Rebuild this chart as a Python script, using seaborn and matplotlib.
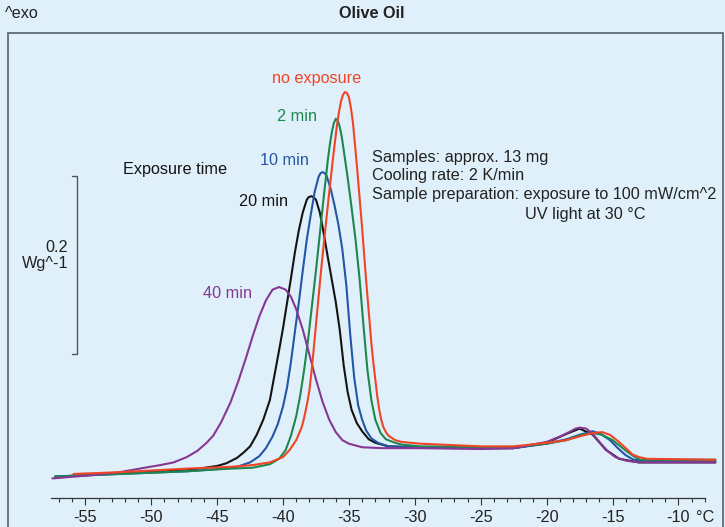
import numpy as np
import pandas as pd
import matplotlib
matplotlib.use("Agg")
import matplotlib.pyplot as plt
import seaborn as sns
from matplotlib.patches import Rectangle
from matplotlib.ticker import FixedLocator

# ---------------- data ----------------
temp_red = [-55.9, -52.4, -47.3, -44.0, -42.3, -41.0, -40.0, -39.5, -39.0, -38.6, -38.45, -38.3,
            -38.15, -38.0, -37.85, -37.7, -37.4, -37.1, -36.8, -36.5, -36.2, -35.9, -35.75, -35.6,
            -35.45, -35.3, -35.15, -35.0, -34.85, -34.7, -34.4, -34.0, -33.7, -33.3, -33.15, -33.0,
            -32.85, -32.7, -32.55, -32.4, -32.2, -32.0, -31.5, -31.0, -29.6, -25.0, -22.5, -20.0,
            -18.5, -17.3, -16.5, -15.8, -15.2, -14.6, -14.0, -13.5, -13.0, -12.4, -7.2]
hf_red = [0.027, 0.029, 0.033, 0.035, 0.037, 0.040, 0.046, 0.054, 0.065, 0.079, 0.087, 0.097,
          0.108, 0.121, 0.141, 0.163, 0.211, 0.258, 0.301, 0.343, 0.383, 0.420, 0.434, 0.446,
          0.453, 0.456, 0.455, 0.450, 0.438, 0.422, 0.374, 0.303, 0.245, 0.174, 0.152, 0.133,
          0.114, 0.099, 0.088, 0.080, 0.074, 0.070, 0.065, 0.063, 0.061, 0.058, 0.058, 0.062,
          0.065, 0.070, 0.073, 0.074, 0.071, 0.064, 0.056, 0.049, 0.046, 0.044, 0.043]

temp_green = [-57.3, -52.4, -47.3, -44.0, -42.3, -41.0, -40.3, -39.8, -39.4, -39.0, -38.7, -38.4,
              -38.1, -37.8, -37.5, -37.2, -36.9, -36.6, -36.45, -36.3, -36.15, -36.0, -35.85, -35.7,
              -35.55, -35.4, -35.1, -34.8, -34.5, -34.2, -33.9, -33.6, -33.3, -33.0, -32.6, -32.2,
              -31.5, -31.0, -29.6, -25.0, -22.5, -20.0, -18.5, -17.3, -16.5, -15.8, -15.0, -14.4,
              -13.9, -13.3, -12.9, -7.2]
hf_green = [0.024, 0.027, 0.030, 0.033, 0.034, 0.038, 0.044, 0.054, 0.070, 0.092, 0.115, 0.144,
            0.178, 0.217, 0.256, 0.298, 0.340, 0.380, 0.397, 0.411, 0.421, 0.426, 0.424, 0.417,
            0.406, 0.391, 0.360, 0.326, 0.290, 0.247, 0.194, 0.144, 0.110, 0.088, 0.073, 0.066,
            0.062, 0.060, 0.058, 0.057, 0.057, 0.061, 0.065, 0.071, 0.073, 0.071, 0.065, 0.058,
            0.052, 0.046, 0.043, 0.043]

temp_blue = [-57.3, -52.4, -47.3, -44.5, -43.5, -42.5, -41.8, -41.3, -40.8, -40.4, -40.0, -39.7,
             -39.4, -39.1, -38.8, -38.5, -38.2, -37.9, -37.6, -37.3, -37.15, -37.0, -36.85, -36.7,
             -36.4, -36.1, -35.8, -35.5, -35.2, -34.9, -34.6, -34.3, -34.0, -33.7, -33.3, -32.8,
             -32.0, -30.0, -25.0, -22.5, -20.0, -18.5, -17.5, -16.5, -15.9, -15.2, -14.6, -14.0,
             -13.4, -12.8, -7.2]
hf_blue = [0.024, 0.027, 0.030, 0.033, 0.035, 0.040, 0.047, 0.056, 0.069, 0.083, 0.103, 0.124,
           0.153, 0.187, 0.220, 0.256, 0.290, 0.318, 0.344, 0.361, 0.365, 0.366, 0.365, 0.362,
           0.348, 0.329, 0.307, 0.279, 0.239, 0.183, 0.135, 0.104, 0.088, 0.076, 0.067, 0.062,
           0.058, 0.057, 0.056, 0.056, 0.061, 0.066, 0.071, 0.075, 0.072, 0.065, 0.056, 0.048,
           0.043, 0.042, 0.042]

temp_black = [-57.3, -52.4, -47.3, -45.0, -44.3, -43.5, -43.0, -42.5, -42.0, -41.5, -41.0, -40.6,
              -40.3, -40.0, -39.7, -39.4, -39.1, -38.8, -38.5, -38.2, -38.05, -37.85, -37.7, -37.5,
              -37.2, -36.9, -36.6, -36.3, -36.0, -35.7, -35.4, -35.1, -34.8, -34.4, -34.0, -33.5,
              -33.0, -32.0, -30.0, -25.0, -22.5, -20.0, -18.5, -17.5, -16.5, -15.5, -14.5, -13.0, -7.2]
hf_black = [0.024, 0.028, 0.031, 0.036, 0.039, 0.045, 0.051, 0.058, 0.071, 0.088, 0.110, 0.142,
            0.166, 0.191, 0.219, 0.247, 0.276, 0.301, 0.321, 0.335, 0.338, 0.339, 0.338, 0.335,
            0.320, 0.296, 0.270, 0.245, 0.220, 0.189, 0.149, 0.119, 0.099, 0.084, 0.075, 0.066,
            0.062, 0.058, 0.057, 0.056, 0.056, 0.062, 0.072, 0.078, 0.071, 0.054, 0.044, 0.040, 0.040]

temp_purple = [-57.5, -55.0, -52.4, -50.5, -49.3, -48.3, -47.3, -46.5, -45.8, -45.3, -44.7, -44.0,
               -43.4, -42.8, -42.3, -41.8, -41.3, -40.8, -40.3, -39.8, -39.4, -39.0, -38.5, -38.0,
               -37.5, -37.0, -36.5, -36.0, -35.5, -35.0, -34.0, -32.5, -29.6, -25.0, -22.5, -20.0,
               -19.0, -18.3, -17.8, -17.5, -17.0, -16.5, -16.0, -15.4, -14.8, -14.0, -13.0, -7.2]
hf_purple = [0.022, 0.025, 0.029, 0.034, 0.037, 0.040, 0.046, 0.053, 0.062, 0.070, 0.085, 0.107,
             0.131, 0.158, 0.182, 0.204, 0.222, 0.234, 0.237, 0.234, 0.226, 0.212, 0.189, 0.161,
             0.133, 0.108, 0.088, 0.074, 0.065, 0.061, 0.057, 0.056, 0.056, 0.055, 0.056, 0.063,
             0.069, 0.074, 0.078, 0.079, 0.078, 0.072, 0.063, 0.053, 0.046, 0.042, 0.040, 0.040]

series_names = ["20 min", "10 min", "2 min", "40 min", "no exposure"]
series_colors = ["#141414", "#2356a6", "#1e8750", "#883793", "#ef4526"]
series_temps = [temp_black, temp_blue, temp_green, temp_purple, temp_red]
series_hf = [hf_black, hf_blue, hf_green, hf_purple, hf_red]

label_text = ["no exposure", "2 min", "10 min", "20 min", "40 min"]
label_color = ["#ef4526", "#1e8750", "#2356a6", "#141414", "#883793"]
label_x = [-37.47, -38.95, -39.93, -41.45, -44.22]
label_y = [0.471, 0.428, 0.379, 0.333, 0.230]

x_major = [-55, -50, -45, -40, -35, -30, -25, -20, -15, -10]
x_major_labels = ["-55", "-50", "-45", "-40", "-35", "-30", "-25", "-20", "-15", "-10"]
x_minor = list(range(-57, -7))

notes = ["Samples: approx. 13 mg", "Cooling rate: 2 K/min",
         "Sample preparation: exposure to 100 mW/cm^2", "UV light at 30 °C"]

# ---------------- style ----------------
BG = "#dff0fa"
sns.set_theme(style="white")
plt.rcParams["font.family"] = ["Liberation Sans", "DejaVu Sans"]
FS = 11.7

fig = plt.figure(figsize=(7.25, 5.27), dpi=100, facecolor=BG)
ax = fig.add_axes([40 / 725, 29 / 527, 680 / 725, 438 / 527])
ax.set_facecolor(BG)

for name, col, t, h in zip(series_names, series_colors, series_temps, series_hf):
    df = pd.DataFrame({"Temperature": t, "HeatFlow": h})
    sns.lineplot(data=df, x="Temperature", y="HeatFlow", ax=ax, color=col, lw=1.5,
                 sort=False, estimator=None, solid_joinstyle="round", solid_capstyle="round")

ax.set_xlim(-58.44, -6.85)
ax.set_ylim(0, 0.492)
ax.set_xlabel("")
ax.set_ylabel("")
ax.set_yticks([])
for s in ["left", "right", "top"]:
    ax.spines[s].set_visible(False)
ax.spines["bottom"].set_bounds(-57.6, -8.0)
ax.spines["bottom"].set_color("#333333")
ax.spines["bottom"].set_linewidth(0.9)
ax.set_xticks(x_major)
ax.set_xticklabels(x_major_labels)
ax.xaxis.set_minor_locator(FixedLocator(x_minor))
ax.tick_params(axis="x", which="major", direction="out", length=5, width=0.8,
               color="#333333", labelsize=FS, labelcolor="#222222", pad=3.5, bottom=True)
ax.tick_params(axis="x", which="minor", direction="out", length=3.2, width=0.8,
               color="#333333", bottom=True)
ax.text(-8.67, -0.0274, "°C", transform=ax.get_xaxis_transform(), ha="left", va="top",
        fontsize=FS, color="#222222")

# scale bar 0.2 W/g
sb_x, sb_y0, sb_h, sb_w = -55.64, 0.162, 0.2, 0.38
ax.plot([sb_x - sb_w, sb_x, sb_x, sb_x - sb_w], [sb_y0, sb_y0, sb_y0 + sb_h, sb_y0 + sb_h],
        color="#555555", lw=1.0, solid_joinstyle="miter")
ax.text(-56.32, 0.272, "0.2\nWg^-1", ha="right", va="center", multialignment="right",
        fontsize=FS, color="#222222", linespacing=1.1)

# curve labels
for txt, c, lx, ly in zip(label_text, label_color, label_x, label_y):
    ax.text(lx, ly, txt, color=c, ha="center", va="center", fontsize=FS)
ax.text(-48.16, 0.3685, "Exposure time", color="#141414", ha="center", va="center", fontsize=FS)

# notes
note_pos = [(-33.25, 0.382), (-33.25, 0.3618), (-33.25, 0.3404), (-21.65, 0.318)]
for txt, (nx, ny) in zip(notes, note_pos):
    ax.text(nx, ny, txt, ha="left", va="center", fontsize=FS, color="#222222")

# figure frame and header
frame = Rectangle((8 / 725, -0.02), (723 - 8) / 725, (1 - 33 / 527) + 0.02,
                  transform=fig.transFigure, fill=False, ec="#5f6b73", lw=1.3, clip_on=False)
fig.patches.append(frame)
fig.text(5 / 725, 1 - 13 / 527, "^exo", ha="left", va="center", fontsize=FS, color="#222222")
fig.text(372 / 725, 1 - 13 / 527, "Olive Oil", ha="center", va="center", fontsize=FS,
         color="#222222", fontweight="bold")

fig.savefig("out.png", dpi=100, facecolor=BG)
